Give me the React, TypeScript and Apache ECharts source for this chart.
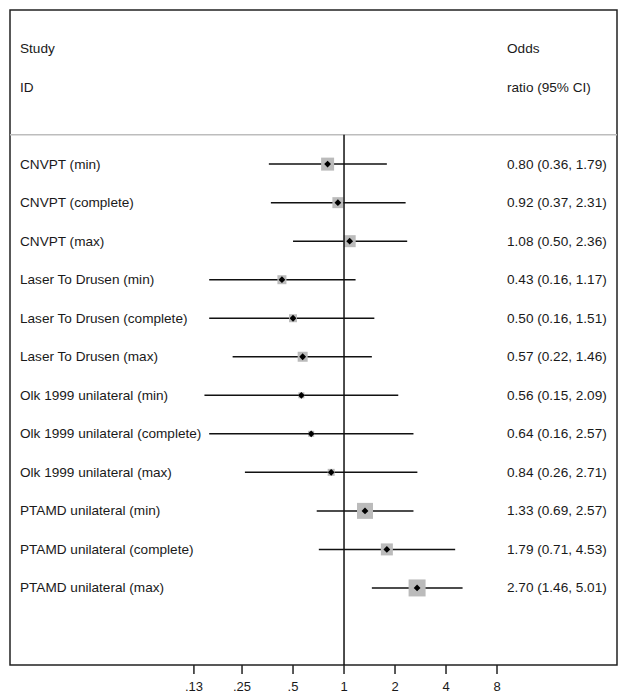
import React, { useEffect, useRef } from "react";
import * as echarts from "echarts";

const studies = [
  "CNVPT (min)",
  "CNVPT (complete)",
  "CNVPT (max)",
  "Laser To Drusen (min)",
  "Laser To Drusen (complete)",
  "Laser To Drusen (max)",
  "Olk 1999 unilateral (min)",
  "Olk 1999 unilateral (complete)",
  "Olk 1999 unilateral (max)",
  "PTAMD unilateral (min)",
  "PTAMD unilateral (complete)",
  "PTAMD unilateral (max)",
];
const oddsRatios = [0.8, 0.92, 1.08, 0.43, 0.5, 0.57, 0.56, 0.64, 0.84, 1.33, 1.79, 2.7];
const lowerCI = [0.36, 0.37, 0.5, 0.16, 0.16, 0.22, 0.15, 0.16, 0.26, 0.69, 0.71, 1.46];
const upperCI = [1.79, 2.31, 2.36, 1.17, 1.51, 1.46, 2.09, 2.57, 2.71, 2.57, 4.53, 5.01];
const squareSizes = [13, 11, 12, 9, 8, 10, 6, 6, 7, 16, 12, 17];
const tickValues = [0.13, 0.25, 0.5, 1, 2, 4, 8];
const tickLabels = [".13", ".25", ".5", "1", "2", "4", "8"];
const headerLeft = ["Study", "ID"];
const headerRight = ["Odds", "ratio (95% CI)"];

const FONT = "13.6px 'Liberation Sans', Arial, sans-serif";
const TICKFONT = "13px 'Liberation Sans', Arial, sans-serif";
const TXT = "#1a1a1a";
const l2 = (v: number) => Math.log2(v);
const fmt = (v: number) => v.toFixed(2);

export default function App() {
  const ref = useRef<HTMLDivElement>(null);
  useEffect(() => {
    if (!ref.current) return;
    const chart = echarts.init(ref.current, null, { renderer: "svg" });
    const ROW0 = 3;
    const SEP = 2.24;
    const YMAX = 16;
    const option: any = {
      animation: false,
      grid: {
        left: 10,
        right: 11,
        top: 10,
        bottom: 34,
        show: true,
        borderColor: "#222",
        borderWidth: 1.5,
        backgroundColor: "#fff",
      },
      xAxis: { type: "value", min: -6.55, max: 5.353, show: false },
      yAxis: { type: "value", min: -1, max: YMAX, inverse: true, show: false },
      series: [
        {
          type: "custom",
          name: "header",
          data: headerLeft.map((_, i) => [i]),
          renderItem: (params: any, api: any) => {
            const i = params.dataIndex;
            const cs = params.coordSys;
            const p = api.coord([0, i]);
            return {
              type: "group",
              children: [
                { type: "text", style: { text: headerLeft[i], x: cs.x + 10, y: p[1], font: FONT, fill: TXT, verticalAlign: "middle", align: "left" } },
                { type: "text", style: { text: headerRight[i], x: cs.x + 497, y: p[1], font: FONT, fill: TXT, verticalAlign: "middle", align: "left" } },
              ],
            };
          },
        },
        {
          type: "custom",
          name: "separator",
          data: [[SEP]],
          renderItem: (params: any, api: any) => {
            const cs = params.coordSys;
            const p = api.coord([0, SEP]);
            return {
              type: "line",
              shape: { x1: cs.x, y1: p[1], x2: cs.x + cs.width, y2: p[1] },
              style: { stroke: "#bdbdbd", lineWidth: 1.5 },
            };
          },
        },
        {
          type: "custom",
          name: "studies",
          data: studies.map((_, i) => [l2(oddsRatios[i]), i + ROW0]),
          renderItem: (params: any, api: any) => {
            const i = params.dataIndex;
            const cs = params.coordSys;
            const y = i + ROW0;
            const pl = api.coord([l2(lowerCI[i]), y]);
            const pu = api.coord([l2(upperCI[i]), y]);
            const pc = api.coord([l2(oddsRatios[i]), y]);
            const s = squareSizes[i];
            const d = 3.4;
            return {
              type: "group",
              children: [
                { type: "line", shape: { x1: pl[0], y1: pl[1], x2: pu[0], y2: pu[1] }, style: { stroke: "#111", lineWidth: 1.5 } },
                { type: "rect", shape: { x: pc[0] - s / 2, y: pc[1] - s / 2, width: s, height: s }, style: { fill: "#bbbbbb" } },
                {
                  type: "polygon",
                  shape: { points: [[pc[0] - d, pc[1]], [pc[0], pc[1] - d], [pc[0] + d, pc[1]], [pc[0], pc[1] + d]] },
                  style: { fill: "#000" },
                },
                { type: "text", style: { text: studies[i], x: cs.x + 10, y: pc[1], font: FONT, fill: TXT, verticalAlign: "middle", align: "left" } },
                {
                  type: "text",
                  style: {
                    text: `${fmt(oddsRatios[i])} (${fmt(lowerCI[i])}, ${fmt(upperCI[i])})`,
                    x: cs.x + 497,
                    y: pc[1],
                    font: FONT,
                    fill: TXT,
                    verticalAlign: "middle",
                    align: "left",
                  },
                },
              ],
            };
          },
        },
        {
          type: "custom",
          name: "refline",
          z: 5,
          data: [[0]],
          renderItem: (params: any, api: any) => {
            const a = api.coord([0, SEP]);
            const b = api.coord([0, YMAX]);
            return {
              type: "line",
              shape: { x1: a[0], y1: a[1], x2: b[0], y2: b[1] },
              style: { stroke: "#111", lineWidth: 1.5 },
            };
          },
        },
        {
          type: "custom",
          name: "ticks",
          data: tickValues.map((v) => [l2(v), YMAX]),
          renderItem: (params: any, api: any) => {
            const i = params.dataIndex;
            const p = api.coord([l2(tickValues[i]), YMAX]);
            return {
              type: "group",
              children: [
                { type: "line", shape: { x1: p[0], y1: p[1], x2: p[0], y2: p[1] + 9 }, style: { stroke: "#222", lineWidth: 1.5 } },
                { type: "text", style: { text: tickLabels[i], x: p[0], y: p[1] + 21, font: TICKFONT, fill: TXT, verticalAlign: "middle", align: "center" } },
              ],
            };
          },
        },
      ],
    };
    chart.setOption(option);
    return () => chart.dispose();
  }, []);
  return (
    <div
      ref={ref}
      style={{ position: "fixed", left: 0, top: 0, width: 628, height: 699, background: "#fff" }}
    />
  );
}
